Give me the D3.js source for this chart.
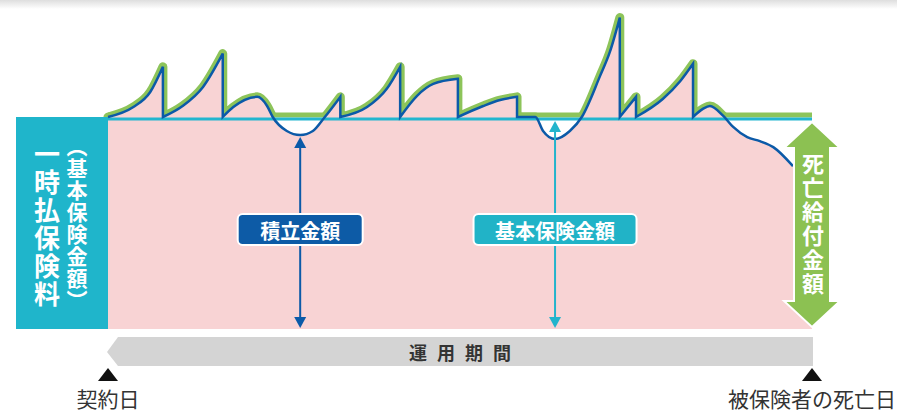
<!DOCTYPE html>
<html>
<head>
<meta charset="utf-8">
<script src="https://cdn.jsdelivr.net/npm/d3@7"></script>
<style>
body{margin:0;background:#fff;}
svg{display:block;font-family:"Noto Sans CJK JP","Noto Sans",sans-serif;}
</style>
</head>
<body>
<div id="chart"></div>
<script>
// fund value over the contract period (time 0-100), base amount = 100
// a repeated time value means a vertical drop (lock-in back to base)
var fundTime  = [0, 3.6, 6.0, 7.8,
                 7.8, 10.6, 13.5, 16.3,
                 16.3, 17.8, 21.2, 22.6, 23.4, 25.4, 27.3, 29.1, 30.8, 33.0,
                 33.0, 36.8, 39.6, 41.5,
                 41.5, 43.9, 46.2, 49.7,
                 49.7, 53.3, 55.7, 58.1,
                 58.1, 60.7, 61.8, 63.5, 65.6, 67.3, 69.9, 71.3, 72.7,
                 72.7, 75.0,
                 75.0, 78.8, 81.3, 83.1,
                 83.1, 84.5, 85.5, 87.4, 88.8, 90.8, 92.6, 94.5, 97.3];
var fundValue = [100, 104.7, 111.8, 123.7,
                 100, 105.2, 114.2, 129.9,
                 100, 104.7, 109.5, 105.2, 100, 93.4, 91.5, 93.4, 100, 109.5,
                 100, 104.7, 113.3, 123.7,
                 100, 110, 115.6, 118,
                 100, 105.2, 108, 109.5,
                 100, 100, 93.4, 89.6, 93.4, 100, 119.4, 130.8, 146.9,
                 100, 109.5,
                 100, 108.5, 117, 125.1,
                 100, 103.8, 105.2, 100.5, 95.3, 90.5, 88.6, 85.8, 76.8];
var baseValue = 100;
var accumTime = 27.3;   // where 積立金額 is measured
var baseTime = 63.5;    // where 基本保険金額 is measured
var startLabel = "契約日", endLabel = "被保険者の死亡日";
var periodLabel = "運用期間";
var premiumLabel = "一時払保険料", premiumSub = "（基本保険金額）";
var accumLabel = "積立金額", baseLabel = "基本保険金額", deathLabel = "死亡給付金額";

var W = 897, H = 413;
var svg = d3.select("#chart").append("svg").attr("width", W).attr("height", H);

var x = d3.scaleLinear().domain([0, 100]).range([108, 812]);
var y = d3.scaleLinear().domain([0, 100]).range([329, 117]);

// top shadow
var defs = svg.append("defs");
var g1 = defs.append("linearGradient").attr("id", "topShade").attr("x1", 0).attr("x2", 0).attr("y1", 0).attr("y2", 1);
g1.append("stop").attr("offset", "0%").attr("stop-color", "#dedede");
g1.append("stop").attr("offset", "100%").attr("stop-color", "#ffffff");
svg.append("rect").attr("x", 0).attr("y", 0).attr("width", W).attr("height", 9).attr("fill", "url(#topShade)");

defs.append("clipPath").attr("id", "aboveBase")
  .append("rect").attr("x", 0).attr("y", 0).attr("width", W).attr("height", y(baseValue));

// split into segments at the drops
var segments = [], cur = [];
fundTime.forEach(function(t, i){
  if(i > 0 && t === fundTime[i-1]){ segments.push(cur); cur = []; }
  cur.push([t, fundValue[i]]);
});
segments.push(cur);

var line = d3.line().x(function(d){return x(d[0]);}).y(function(d){return y(d[1]);}).curve(d3.curveMonotoneX);
var curvePath = segments.map(function(s, i){
  var p = line(s);
  return i ? "L" + p.slice(1) : p;
}).join("");
var lastV = fundValue[fundValue.length-1];

// green outline (max of curve and base)
svg.append("path").attr("d", curvePath).attr("fill", "none")
  .attr("stroke", "#8dc45a").attr("stroke-width", 9).attr("stroke-linejoin", "round").attr("stroke-linecap", "round")
  .attr("clip-path", "url(#aboveBase)");
svg.append("line").attr("x1", x(0)).attr("x2", x(100)).attr("y1", y(baseValue) - 2).attr("y2", y(baseValue) - 2)
  .attr("stroke", "#8dc45a").attr("stroke-width", 5);

// pink area under fund value
svg.append("path")
  .attr("d", curvePath + "L" + x(100) + "," + y(lastV) + "L" + x(100) + "," + y(0) + "L" + x(0) + "," + y(0) + "Z")
  .attr("fill", "#f8d3d4");

// base line
svg.append("line").attr("x1", x(0)).attr("x2", x(100)).attr("y1", y(baseValue) + 2).attr("y2", y(baseValue) + 2)
  .attr("stroke", "#23b6cf").attr("stroke-width", 3);

// fund value line
svg.append("path").attr("d", curvePath).attr("fill", "none")
  .attr("stroke", "#0b5aa8").attr("stroke-width", 2.5);

// premium box
svg.append("rect").attr("x", 16).attr("y", y(baseValue)).attr("width", x(0) - 16).attr("height", y(0) - y(baseValue))
  .attr("fill", "#1fb5cb");
svg.append("text").text(premiumLabel)
  .attr("x", 47).attr("y", (y(baseValue) + y(0)) / 2 + 2)
  .attr("text-anchor", "middle").attr("fill", "#fff").attr("font-size", 26).attr("font-weight", "bold")
  .attr("letter-spacing", 2)
  .style("writing-mode", "vertical-rl");
svg.append("text").text(premiumSub)
  .attr("x", 77).attr("y", (y(baseValue) + y(0)) / 2 + 1)
  .attr("text-anchor", "middle").attr("fill", "#fff").attr("font-size", 21).attr("font-weight", "bold")
  .attr("letter-spacing", 1)
  .style("writing-mode", "vertical-rl");

// vertical measure arrows
function vArrow(xp, y1, y2, color){
  var g = svg.append("g");
  g.append("line").attr("x1", xp).attr("x2", xp).attr("y1", y1 + 8).attr("y2", y2 - 8)
    .attr("stroke", color).attr("stroke-width", 2);
  g.append("path").attr("d", "M" + xp + "," + y1 + "L" + (xp - 6) + "," + (y1 + 11) + "L" + (xp + 6) + "," + (y1 + 11) + "Z").attr("fill", color);
  g.append("path").attr("d", "M" + xp + "," + y2 + "L" + (xp - 6) + "," + (y2 - 11) + "L" + (xp + 6) + "," + (y2 - 11) + "Z").attr("fill", color);
}
var accumV = fundValue[fundTime.indexOf(accumTime)];
vArrow(x(accumTime), y(accumV) + 2, y(0) - 1, "#0b5aa8");
vArrow(x(baseTime), y(baseValue) + 4, y(0) - 1, "#22b4cc");

function tag(cx, w, text, color){
  svg.append("rect").attr("x", cx - w / 2).attr("y", 214).attr("width", w).attr("height", 31).attr("rx", 5)
    .attr("fill", color).attr("stroke", "#fff").attr("stroke-width", 2);
  svg.append("text").text(text).attr("x", cx).attr("y", 230)
    .attr("text-anchor", "middle").attr("dominant-baseline", "central")
    .attr("fill", "#fff").attr("font-size", 20).attr("font-weight", "bold");
}
tag(x(accumTime), 125, accumLabel, "#0d5ba6");
tag(x(baseTime), 163, baseLabel, "#21b3c7");

// death benefit double arrow
var ax = x(100), aTop = y(baseValue) + 5, aBot = y(0) - 2;
var hw = 28, sw = 18, hl = 26;
svg.append("path")
  .attr("d", "M" + ax + "," + aTop + "L" + (ax + hw) + "," + (aTop + hl) + "L" + (ax + sw) + "," + (aTop + hl) +
    "L" + (ax + sw) + "," + (aBot - hl) + "L" + (ax + hw) + "," + (aBot - hl) + "L" + ax + "," + aBot +
    "L" + (ax - hw) + "," + (aBot - hl) + "L" + (ax - sw) + "," + (aBot - hl) + "L" + (ax - sw) + "," + (aTop + hl) +
    "L" + (ax - hw) + "," + (aTop + hl) + "Z")
  .attr("fill", "#8cc152").attr("stroke", "#fff").attr("stroke-width", 2).attr("stroke-linejoin", "miter");
svg.append("text").text(deathLabel)
  .attr("x", ax + 1).attr("y", (aTop + aBot) / 2)
  .attr("text-anchor", "middle").attr("fill", "#fff").attr("font-size", 22).attr("font-weight", "bold")
  .attr("letter-spacing", 2)
  .style("writing-mode", "vertical-rl");

// period bar
svg.append("path")
  .attr("d", "M" + (x(0) - 1) + ",352L" + (x(0) + 10) + ",337L" + (x(100) + 1) + ",337L" + (x(100) + 1) + ",366L" + (x(0) + 10) + ",366Z")
  .attr("fill", "#d4d4d4");
svg.append("text").text(periodLabel)
  .attr("x", (x(0) + x(100)) / 2 + 5).attr("y", 352)
  .attr("text-anchor", "middle").attr("dominant-baseline", "central")
  .attr("fill", "#333").attr("font-size", 18).attr("font-weight", "bold").attr("letter-spacing", 10);

// start/end markers
[[0, startLabel], [100, endLabel]].forEach(function(d){
  var cx = x(d[0]);
  svg.append("path").attr("d", "M" + cx + ",368L" + (cx + 10) + ",381L" + (cx - 10) + ",381Z").attr("fill", "#111");
  svg.append("text").text(d[1]).attr("x", cx).attr("y", 407)
    .attr("text-anchor", "middle").attr("fill", "#333").attr("font-size", 21);
});
</script>
</body>
</html>
